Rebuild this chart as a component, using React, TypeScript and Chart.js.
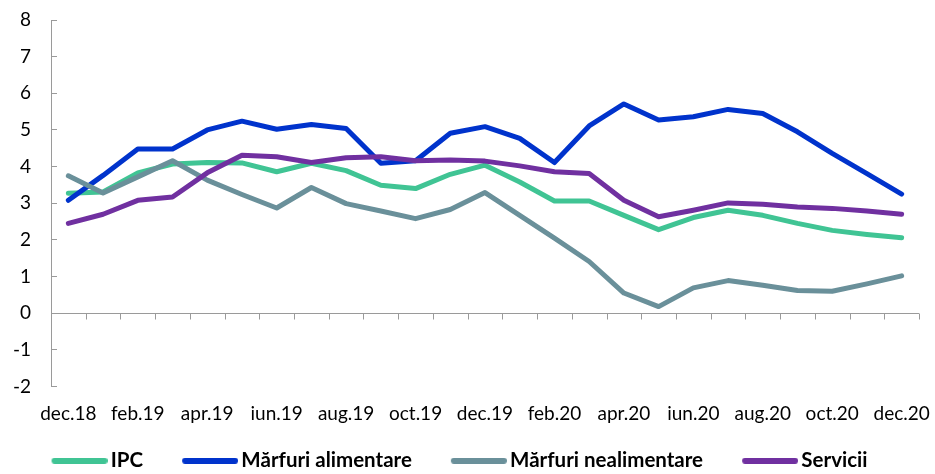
import React, { useEffect, useRef } from "react";
import { Chart, registerables } from "chart.js";

Chart.register(...registerables);

const categories = [
  "dec.18", "ian.19", "feb.19", "mar.19", "apr.19", "mai.19", "iun.19", "iul.19",
  "aug.19", "sep.19", "oct.19", "noi.19", "dec.19", "ian.20", "feb.20", "mar.20",
  "apr.20", "mai.20", "iun.20", "iul.20", "aug.20", "sep.20", "oct.20", "noi.20", "dec.20",
];

const ipc = [3.27, 3.31, 3.83, 4.07, 4.11, 4.10, 3.86, 4.09, 3.89, 3.49, 3.40, 3.79, 4.04,
  3.58, 3.06, 3.06, 2.67, 2.28, 2.61, 2.81, 2.67, 2.45, 2.26, 2.15, 2.06];
const alimentare = [3.08, 3.76, 4.48, 4.48, 5.00, 5.24, 5.02, 5.15, 5.04, 4.09, 4.16, 4.91, 5.09,
  4.77, 4.11, 5.11, 5.71, 5.27, 5.36, 5.56, 5.45, 4.95, 4.36, 3.81, 3.25];
const nealimentare = [3.75, 3.28, 3.72, 4.16, 3.63, 3.24, 2.87, 3.43, 2.99, 2.79, 2.58, 2.83, 3.29,
  2.67, 2.05, 1.41, 0.55, 0.18, 0.69, 0.89, 0.76, 0.62, 0.60, 0.80, 1.02];
const servicii = [2.45, 2.70, 3.08, 3.17, 3.83, 4.31, 4.27, 4.11, 4.24, 4.27, 4.16, 4.18, 4.15,
  4.02, 3.86, 3.81, 3.08, 2.63, 2.81, 3.01, 2.97, 2.90, 2.86, 2.79, 2.70];

const seriesNames = ["IPC", "Mărfuri alimentare", "Mărfuri nealimentare", "Servicii"];
const seriesColors = ["#40C494", "#0033CC", "#6A909A", "#7030A0"];
const seriesValues = [ipc, alimentare, nealimentare, servicii];

const yMin = -2;
const yMax = 8;

const FONT = "Lato, 'Open Sans', sans-serif";
const AXIS_GREY = "#9a9a9a";

// legend swatch image (a short thick line, slightly wider than its legend box)
const SWATCH_BOX = 62;
const SWATCH_W = 76;
const SWATCH_LINE = 56;
const SWATCH_H = 6;

function makeSwatch(color: string): HTMLCanvasElement {
  const c = document.createElement("canvas");
  c.width = SWATCH_W;
  c.height = SWATCH_H;
  const ctx = c.getContext("2d")!;
  ctx.strokeStyle = color;
  ctx.lineWidth = SWATCH_H;
  ctx.lineCap = "round";
  ctx.beginPath();
  ctx.moveTo(SWATCH_W - SWATCH_LINE + SWATCH_H / 2, SWATCH_H / 2);
  ctx.lineTo(SWATCH_W - SWATCH_H / 2, SWATCH_H / 2);
  ctx.stroke();
  return c;
}

// horizontal axis line at value 0 with outside tick marks between categories
const zeroAxisPlugin = {
  id: "zeroAxis",
  beforeDatasetsDraw(chart: any) {
    const { ctx, chartArea, scales } = chart;
    const xs = scales.x;
    const y0 = Math.round(scales.y.getPixelForValue(0)) + 0.5;
    ctx.save();
    ctx.strokeStyle = AXIS_GREY;
    ctx.lineWidth = 1;
    ctx.beginPath();
    ctx.moveTo(chartArea.left, y0);
    ctx.lineTo(chartArea.right, y0);
    const n = xs.ticks.length;
    for (let i = 0; i <= n; i++) {
      const px = Math.round(xs.getPixelForValue(i - 0.5)) + 0.5;
      ctx.moveTo(px, y0);
      ctx.lineTo(px, y0 + 6);
    }
    ctx.stroke();
    ctx.restore();
  },
};

export default function App() {
  const ref = useRef<HTMLCanvasElement | null>(null);

  useEffect(() => {
    if (!ref.current) return;
    const chart = new Chart(ref.current, {
      type: "line",
      data: {
        labels: categories,
        datasets: seriesValues.map((vals, i) => ({
          label: seriesNames[i],
          data: vals,
          borderColor: seriesColors[i],
          backgroundColor: seriesColors[i],
          borderWidth: 5,
          pointRadius: 0,
          pointHoverRadius: 0,
          pointStyle: makeSwatch(seriesColors[i]) as any,
          tension: 0,
          borderCapStyle: "round" as const,
          borderJoinStyle: "round" as const,
          order: seriesValues.length - i,
        })),
      },
      plugins: [zeroAxisPlugin],
      options: {
        animation: false,
        responsive: false,
        maintainAspectRatio: false,
        events: [],
        layout: { padding: { top: 20, right: 16, bottom: -7, left: -13 } },
        plugins: {
          tooltip: { enabled: false },
          legend: {
            position: "bottom",
            labels: {
              usePointStyle: true,
              pointStyleWidth: SWATCH_BOX,
              boxHeight: 6,
              padding: 26,
              color: "#000",
              font: { family: FONT, size: 20.5, weight: "bold" },
              sort: (a: any, b: any) => a.datasetIndex - b.datasetIndex,
            },
          },
        },
        scales: {
          x: {
            type: "category",
            offset: true,
            grid: { display: false },
            border: { display: false },
            ticks: {
              autoSkip: false,
              maxRotation: 0,
              padding: 8,
              color: "#000",
              font: { family: FONT, size: 19 },
              callback: (_v: any, idx: number) => (idx % 2 === 0 ? categories[idx] : ""),
            },
            afterFit: (s: any) => {
              s.height = 38;
              s.paddingLeft = 0;
              s.paddingRight = 0;
            },
          },
          y: {
            min: yMin,
            max: yMax,
            grid: { drawOnChartArea: false, drawTicks: true, tickLength: -6, color: AXIS_GREY },
            border: { display: true, color: AXIS_GREY, width: 1 },
            ticks: {
              stepSize: 1,
              padding: 26,
              color: "#000",
              font: { family: FONT, size: 19 },
            },
            afterFit: (s: any) => {
              s.width = 64;
              s.paddingTop = 0;
              s.paddingBottom = 0;
            },
          },
        },
      },
    });
    return () => chart.destroy();
  }, []);

  return (
    <div style={{ position: "absolute", left: 0, top: 0, width: 935, height: 474, background: "#fff" }}>
      <canvas ref={ref} width={935} height={474} style={{ width: 935, height: 474 }} />
    </div>
  );
}
